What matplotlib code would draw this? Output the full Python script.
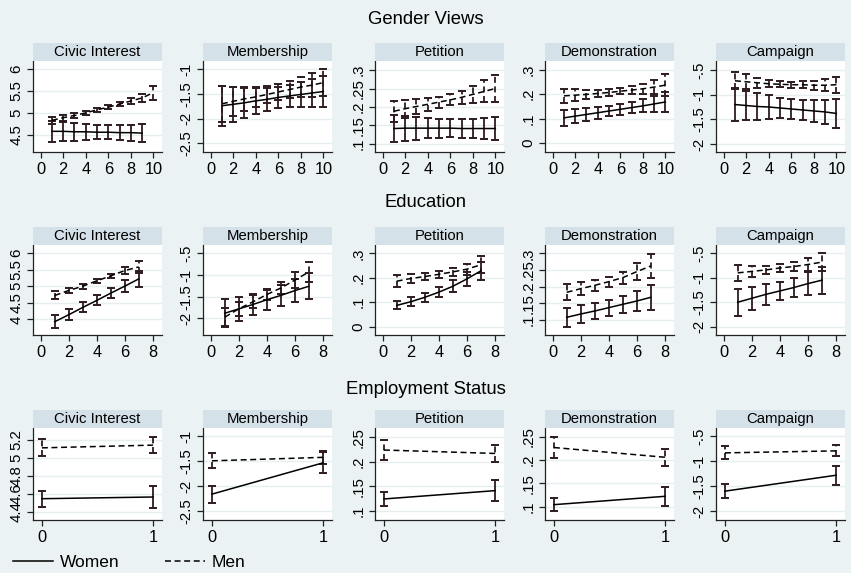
import matplotlib
matplotlib.use("Agg")
import matplotlib.pyplot as plt
from matplotlib.patches import Rectangle
from matplotlib.lines import Line2D

plt.rcParams['font.family'] = ['Liberation Sans', 'DejaVu Sans']
plt.rcParams['lines.scale_dashes'] = False

# ---------------------------------------------------------------- data
outcomes = ["Civic Interest", "Membership", "Petition", "Demonstration", "Campaign"]
row_titles = ["Gender Views", "Education", "Employment Status"]

gender_x = [1, 2, 3, 4, 5, 6, 7, 8, 9, 10]
education_x = [1, 2, 3, 4, 5, 6, 7]
employment_x = [0, 1]

# Gender views: predicted values (mean) and half-width of the 95% CI
gender_women = {
    "Civic Interest": [4.58, 4.58, 4.57, 4.57, 4.56, 4.56, 4.55, 4.55, 4.54],
    "Membership": [-1.74, -1.71, -1.68, -1.64, -1.61, -1.57, -1.54, -1.51, -1.48, -1.45],
    "Petition": [0.141, 0.142, 0.142, 0.142, 0.142, 0.142, 0.141, 0.141, 0.141, 0.141],
    "Demonstration": [0.103, 0.110, 0.117, 0.124, 0.131, 0.138, 0.145, 0.152, 0.160, 0.168],
    "Campaign": [-1.20, -1.22, -1.24, -1.25, -1.27, -1.29, -1.31, -1.33, -1.35, -1.38],
}
gender_women_hw = {
    "Civic Interest": [0.24, 0.22, 0.20, 0.18, 0.16, 0.16, 0.17, 0.18, 0.20],
    "Membership": [0.41, 0.36, 0.31, 0.26, 0.23, 0.22, 0.23, 0.25, 0.28, 0.31],
    "Petition": [0.037, 0.034, 0.031, 0.028, 0.026, 0.025, 0.025, 0.026, 0.028, 0.032],
    "Demonstration": [0.034, 0.030, 0.027, 0.024, 0.022, 0.022, 0.024, 0.027, 0.032, 0.039],
    "Campaign": [0.33, 0.30, 0.27, 0.24, 0.21, 0.20, 0.21, 0.22, 0.25, 0.29],
}
gender_men = {
    "Civic Interest": [4.83, 4.89, 4.94, 5.00, 5.07, 5.13, 5.20, 5.27, 5.34, 5.46],
    "Membership": [-1.70, -1.65, -1.60, -1.56, -1.51, -1.46, -1.41, -1.36, -1.32, -1.27],
    "Petition": [0.188, 0.195, 0.201, 0.207, 0.213, 0.219, 0.226, 0.234, 0.242, 0.250],
    "Demonstration": [0.193, 0.196, 0.199, 0.203, 0.207, 0.212, 0.217, 0.222, 0.229, 0.237],
    "Campaign": [-0.72, -0.74, -0.76, -0.78, -0.79, -0.80, -0.80, -0.81, -0.81, -0.80],
}
gender_men_hw = {
    "Civic Interest": [0.08, 0.07, 0.06, 0.05, 0.04, 0.04, 0.05, 0.07, 0.10, 0.16],
    "Membership": [0.36, 0.30, 0.25, 0.20, 0.17, 0.16, 0.17, 0.20, 0.24, 0.28],
    "Petition": [0.029, 0.024, 0.020, 0.017, 0.015, 0.015, 0.017, 0.023, 0.030, 0.038],
    "Demonstration": [0.030, 0.025, 0.020, 0.015, 0.013, 0.013, 0.015, 0.020, 0.030, 0.044],
    "Campaign": [0.17, 0.15, 0.10, 0.07, 0.06, 0.06, 0.07, 0.09, 0.12, 0.16],
}

# Education
education_women = {
    "Civic Interest": [3.93, 4.14, 4.36, 4.57, 4.79, 5.00, 5.22],
    "Membership": [-1.88, -1.78, -1.68, -1.57, -1.47, -1.36, -1.26],
    "Petition": [0.087, 0.102, 0.120, 0.141, 0.165, 0.195, 0.228],
    "Demonstration": [0.108, 0.118, 0.127, 0.137, 0.147, 0.157, 0.168],
    "Campaign": [-1.50, -1.42, -1.34, -1.27, -1.20, -1.12, -1.05],
}
education_women_hw = {
    "Civic Interest": [0.20, 0.17, 0.15, 0.15, 0.15, 0.18, 0.25],
    "Membership": [0.32, 0.27, 0.24, 0.23, 0.24, 0.27, 0.30],
    "Petition": [0.016, 0.018, 0.018, 0.020, 0.024, 0.030, 0.036],
    "Demonstration": [0.028, 0.026, 0.024, 0.024, 0.026, 0.030, 0.037],
    "Campaign": [0.28, 0.24, 0.21, 0.19, 0.20, 0.23, 0.28],
}
education_men = {
    "Civic Interest": [4.72, 4.87, 5.00, 5.16, 5.31, 5.47, 5.58],
    "Membership": [-1.97, -1.78, -1.62, -1.45, -1.30, -1.12, -0.93],
    "Petition": [0.186, 0.197, 0.205, 0.214, 0.224, 0.235, 0.253],
    "Demonstration": [0.183, 0.194, 0.204, 0.215, 0.227, 0.245, 0.262],
    "Campaign": [-0.90, -0.87, -0.84, -0.80, -0.77, -0.73, -0.68],
}
education_men_hw = {
    "Civic Interest": [0.12, 0.09, 0.07, 0.06, 0.07, 0.10, 0.17],
    "Membership": [0.20, 0.17, 0.15, 0.12, 0.14, 0.18, 0.24],
    "Petition": [0.024, 0.019, 0.015, 0.013, 0.015, 0.023, 0.035],
    "Demonstration": [0.024, 0.020, 0.017, 0.015, 0.018, 0.025, 0.035],
    "Campaign": [0.17, 0.12, 0.09, 0.08, 0.09, 0.13, 0.19],
}

# Employment status
employment_women = {
    "Civic Interest": [4.546, 4.565],
    "Membership": [-2.16, -1.53],
    "Petition": [0.124, 0.141],
    "Demonstration": [0.104, 0.122],
    "Campaign": [-1.60, -1.28],
}
employment_women_hw = {
    "Civic Interest": [0.088, 0.12],
    "Membership": [0.17, 0.21],
    "Petition": [0.014, 0.021],
    "Demonstration": [0.014, 0.021],
    "Campaign": [0.14, 0.19],
}
employment_men = {
    "Civic Interest": [5.11, 5.14],
    "Membership": [-1.49, -1.42],
    "Petition": [0.224, 0.217],
    "Demonstration": [0.227, 0.206],
    "Campaign": [-0.83, -0.79],
}
employment_men_hw = {
    "Civic Interest": [0.095, 0.088],
    "Membership": [0.15, 0.13],
    "Petition": [0.021, 0.017],
    "Demonstration": [0.023, 0.018],
    "Campaign": [0.13, 0.11],
}

# axis ticks per row / panel
x_ticks = [[0, 2, 4, 6, 8, 10], [0, 2, 4, 6, 8], [0, 1]]
y_ticks = [
    [[4.5, 5, 5.5, 6], [-2.5, -2, -1.5, -1], [0.1, 0.15, 0.2, 0.25, 0.3], [0, 0.1, 0.2, 0.3], [-2, -1.5, -1, -0.5]],
    [[4, 4.5, 5, 5.5, 6], [-2, -1.5, -1, -0.5], [0, 0.1, 0.2, 0.3], [0.1, 0.15, 0.2, 0.25, 0.3], [-2, -1.5, -1, -0.5]],
    [[4.4, 4.6, 4.8, 5, 5.2], [-2.5, -2, -1.5, -1], [0.1, 0.15, 0.2, 0.25], [0.1, 0.15, 0.2, 0.25], [-2, -1.5, -1, -0.5]],
]

# ---------------------------------------------------------------- layout / style
W, H = 851, 573
BG = "#eaf2f3"
STRIP = "#d5e1e8"
GRID = "#e6eef0"
BAR = "#2e1c1f"
DASH = (0, (4.3, 2.6))

x_limits = [(-0.68, 10.77), (-0.55, 8.66), (-0.08, 1.08)]
y_limits = [
    [(4.11, 6.18), (-2.68, -0.83), (0.077, 0.325), (-0.037, 0.336), (-2.16, -0.32)],
    [(3.53, 6.24), (-2.38, -0.31), (-0.034, 0.334), (0.055, 0.325), (-2.17, -0.33)],
    [(4.31, 5.33), (-2.68, -0.83), (0.081, 0.269), (0.071, 0.269), (-2.18, -0.33)],
]
col_left = [33, 203, 375, 545, 716]
panel_w = 129
row_plot = [(61, 152), (245, 335), (428, 520)]
strip_h = 18
row_title_y = [20, 203, 390]

fig = plt.figure(figsize=(W / 100, H / 100), dpi=100, facecolor=BG)


def stata_fmt(v):
    s = f"{v:g}"
    if s.startswith("0."):
        s = s[1:]
    elif s.startswith("-0."):
        s = "-" + s[2:]
    return s


def draw_series(ax, x, mean, hw, dashed):
    x = x[:len(mean)]
    lo = [m - h for m, h in zip(mean, hw)]
    hi = [m + h for m, h in zip(mean, hw)]
    ls = DASH if dashed else "-"
    ax.vlines(x, lo, hi, colors=BAR, linewidth=1.3, linestyles=ls, zorder=3)
    ax.plot(x, lo, ls="none", marker="_", ms=5.5, mew=1.4, color=BAR, zorder=3)
    ax.plot(x, hi, ls="none", marker="_", ms=5.5, mew=1.4, color=BAR, zorder=3)
    ax.plot(x, mean, color="black", lw=1.1, linestyle=ls, zorder=4)


rows = [
    (gender_x, gender_women, gender_women_hw, gender_men, gender_men_hw),
    (education_x, education_women, education_women_hw, education_men, education_men_hw),
    (employment_x, employment_women, employment_women_hw, employment_men, employment_men_hw),
]

for r, (xs, wm, whw, mm, mhw) in enumerate(rows):
    top, bottom = row_plot[r]
    fig.text(426 / W, 1 - row_title_y[r] / H, row_titles[r], ha="center", va="center",
             fontsize=13.3)
    for c, name in enumerate(outcomes):
        left = col_left[c]
        ax = fig.add_axes([left / W, 1 - bottom / H, panel_w / W, (bottom - top) / H])
        ax.set_facecolor("white")
        # strip title above the panel
        fig.patches.append(Rectangle((left / W, 1 - top / H), panel_w / W, strip_h / H,
                                     transform=fig.transFigure, facecolor=STRIP,
                                     edgecolor="none", zorder=1))
        fig.text((left + panel_w / 2) / W, 1 - (top - strip_h / 2) / H, name,
                 ha="center", va="center", fontsize=10.7, zorder=2)

        draw_series(ax, xs, wm[name], whw[name], dashed=False)
        draw_series(ax, xs, mm[name], mhw[name], dashed=True)

        ax.set_xlim(*x_limits[r])
        ax.set_ylim(*y_limits[r][c])
        ax.set_xticks(x_ticks[r])
        ax.set_xticklabels([str(t) for t in x_ticks[r]])
        yt = y_ticks[r][c]
        ax.set_yticks(yt)
        ax.set_yticklabels([stata_fmt(t) for t in yt], rotation=90, va="center")
        for t in yt:
            ax.axhline(t, color=GRID, lw=1.0, zorder=1)
        for s in ("top", "right"):
            ax.spines[s].set_visible(False)
        for s in ("left", "bottom"):
            ax.spines[s].set_color("#222222")
            ax.spines[s].set_linewidth(0.9)
        ax.tick_params(axis="both", direction="out", length=4, width=0.9,
                       color="#222222", pad=3)
        ax.tick_params(axis="x", labelsize=11.8)
        ax.tick_params(axis="y", labelsize=10.8)

handles = [Line2D([], [], color="black", lw=1.1),
           Line2D([], [], color="black", lw=1.1, linestyle=DASH)]
fig.legend(handles, ["Women", "Men"], loc="center left",
           bbox_to_anchor=(13 / W, 1 - 562 / H), ncol=2, frameon=False,
           fontsize=12.5, handlelength=2.3, handletextpad=0.4, columnspacing=2.6,
           borderaxespad=0, borderpad=0)

fig.savefig("out.png", dpi=100, facecolor=BG)
